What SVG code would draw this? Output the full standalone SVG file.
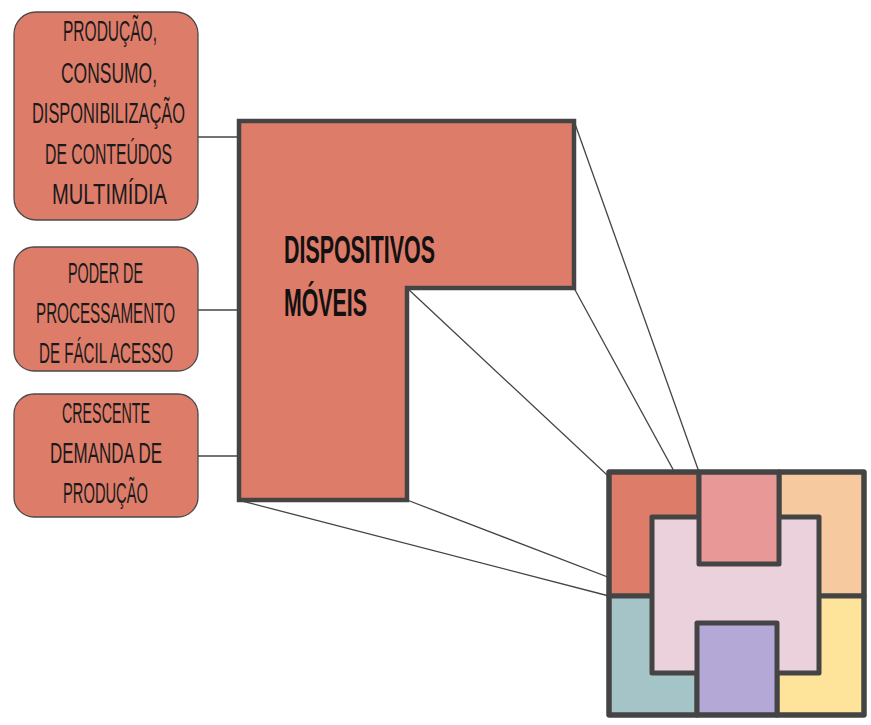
<svg xmlns="http://www.w3.org/2000/svg" width="871" height="725" viewBox="0 0 871 725">
<style>
.box{fill:#DE7C6A;stroke:#4a4a4a;stroke-width:1.3}
.lbl{font-family:"Liberation Sans",Arial,sans-serif;font-size:29px;fill:#1a1a1a;text-transform:uppercase}
.main{font-family:"Liberation Sans",Arial,sans-serif;font-size:38px;fill:#111;text-transform:uppercase;font-weight:bold}
.conn{stroke:#444;stroke-width:1.3;fill:none}
.piece{stroke:#444;stroke-width:5;stroke-linejoin:round}
</style>
<rect width="871" height="725" fill="#fff"/>
<g id="connectors">
<line class="conn" x1="198" y1="137" x2="238" y2="137"/>
<line class="conn" x1="198" y1="310" x2="238" y2="310"/>
<line class="conn" x1="198" y1="456" x2="238" y2="456"/>
<line class="conn" x1="574" y1="121" x2="699" y2="472"/>
<line class="conn" x1="574" y1="288" x2="699" y2="517"/>
<line class="conn" x1="407" y1="288" x2="652" y2="517"/>
<line class="conn" x1="407" y1="500" x2="652" y2="594"/>
<line class="conn" x1="238" y1="500" x2="609" y2="596"/>
</g>
<g id="node-producao">
<rect class="box" x="14" y="12" width="184" height="208" rx="22"/>
<text class="lbl" x="63" y="41" textLength="94" lengthAdjust="spacingAndGlyphs">Produção,</text>
<text class="lbl" x="61" y="83" textLength="96" lengthAdjust="spacingAndGlyphs">consumo,</text>
<text class="lbl" x="32" y="123" textLength="153" lengthAdjust="spacingAndGlyphs">disponibilização</text>
<text class="lbl" x="45" y="164" textLength="127" lengthAdjust="spacingAndGlyphs">de conteúdos</text>
<text class="lbl" x="52" y="204" textLength="115" lengthAdjust="spacingAndGlyphs">multimídia</text>
</g>
<g id="node-poder">
<rect class="box" x="14" y="247" width="184" height="124" rx="20"/>
<text class="lbl" x="68" y="283" textLength="75" lengthAdjust="spacingAndGlyphs">Poder de</text>
<text class="lbl" x="36" y="323" textLength="139" lengthAdjust="spacingAndGlyphs">processamento</text>
<text class="lbl" x="39" y="363" textLength="134" lengthAdjust="spacingAndGlyphs">de fácil acesso</text>
</g>
<g id="node-crescente">
<rect class="box" x="14" y="394" width="184" height="123" rx="20"/>
<text class="lbl" x="62" y="423" textLength="88" lengthAdjust="spacingAndGlyphs">Crescente</text>
<text class="lbl" x="50" y="463" textLength="112" lengthAdjust="spacingAndGlyphs">demanda de</text>
<text class="lbl" x="63" y="503" textLength="85" lengthAdjust="spacingAndGlyphs">produção</text>
</g>
<g id="node-dispositivos">
<polygon points="239,121 574,121 574,288 407,288 407,500 239,500" fill="#DE7C6A" stroke="#444" stroke-width="4.5"/>
<text class="main" x="284" y="263" textLength="151" lengthAdjust="spacingAndGlyphs">Dispositivos</text>
<text class="main" x="284" y="316" textLength="83" lengthAdjust="spacingAndGlyphs">Móveis</text>
</g>
<g id="node-puzzle">
<rect class="piece" x="609" y="472" width="90" height="124" fill="#DE7C6A"/>
<rect class="piece" x="779" y="472" width="85" height="124" fill="#F7C99E"/>
<rect class="piece" x="609" y="596" width="88" height="119" fill="#A4C4C8"/>
<rect class="piece" x="777" y="596" width="87" height="119" fill="#FEE39A"/>
<rect class="piece" x="652" y="517" width="167" height="156" fill="#EAD1DC"/>
<rect class="piece" x="699" y="472" width="80" height="92" fill="#E99898"/>
<rect class="piece" x="697" y="623" width="80" height="92" fill="#B4A8D6"/>
<rect x="609" y="472" width="255" height="243" fill="none" stroke="#444" stroke-width="5" stroke-linejoin="round"/>
</g>
</svg>
